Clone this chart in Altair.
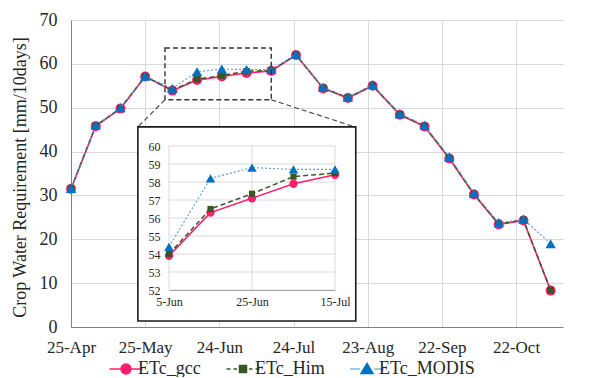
import altair as alt
import pandas as pd

FONT = "'Liberation Serif', 'Times New Roman', 'DejaVu Serif', serif"

# ---------------- data ----------------
dates = ["2019-04-25", "2019-05-05", "2019-05-15", "2019-05-25", "2019-06-05",
         "2019-06-15", "2019-06-25", "2019-07-05", "2019-07-15", "2019-07-25",
         "2019-08-05", "2019-08-15", "2019-08-25", "2019-09-05", "2019-09-15",
         "2019-09-25", "2019-10-05", "2019-10-15", "2019-10-25", "2019-11-05"]
gcc = [31.5, 45.8, 49.8, 57.1, 53.9, 56.3, 57.1, 57.9, 58.4, 62.0,
       54.4, 52.2, 55.0, 48.4, 45.7, 38.4, 30.2, 23.4, 24.3, 8.3]
him = [31.5, 45.9, 49.9, 57.1, 54.0, 56.5, 57.35, 58.3, 58.5, 62.0,
       54.5, 52.3, 55.0, 48.5, 45.8, 38.5, 30.3, 23.5, 24.4, 8.4]
modis = [31.6, 46.0, 50.0, 57.2, 54.4, 58.2, 58.8, 58.7, 58.7, 62.2,
         54.6, 52.4, 55.3, 48.6, 46.0, 38.8, 30.5, 23.8, 24.6, 19.0]

series_names = ["ETc_gcc", "ETc_Him", "ETc_MODIS"]
marker_colors = ["#FF1F6E", "#375623", "#0070C0"]
line_colors = ["#FF1F6E", "#3B5B2B", "#5B9BD5"]

main_x_domain = ["2019-04-25", "2019-11-10"]
main_x_ticks = ["2019-04-25", "2019-05-25", "2019-06-24", "2019-07-24",
                "2019-08-23", "2019-09-22", "2019-10-22"]
main_y_domain = [0, 70]
main_y_ticks = [0, 10, 20, 30, 40, 50, 60, 70]

inset_x_domain = ["2019-06-05", "2019-07-15"]
inset_x_ticks = ["2019-06-05", "2019-06-25", "2019-07-15"]
inset_y_domain = [52, 60]
inset_y_ticks = [52, 53, 54, 55, 56, 57, 58, 59, 60]

zoom_x = ["2019-06-02", "2019-07-15"]
zoom_y = [51.8, 63.6]
conn_x_end = ["2019-05-22", "2019-08-18"]
conn_y_end = [45.6, 45.6]
inset_box_x = ["2019-05-28 12:00", "2019-07-20"]
inset_box_y = [50.28, 61.06]

DATE_LABEL = "utcFormat(datum.value, '%-d-%b')"


def ms(s):
    return int(pd.Timestamp(s).tz_localize("UTC").value // 1_000_000)


rows = []
for name, vals in zip(series_names, [gcc, him, modis]):
    for d, v in zip(dates, vals):
        rows.append({"date": ms(d), "value": v, "series": name})
df = pd.DataFrame(rows)
lo, hi = ms(inset_x_domain[0]), ms(inset_x_domain[1])
df_inset = df[(df["date"] >= lo) & (df["date"] <= hi)]

# ---------------- encodings ----------------
x_main_scale = alt.Scale(type="utc", domain=[ms(d) for d in main_x_domain])
x_main_axis = alt.Axis(values=[ms(d) for d in main_x_ticks], labelExpr=DATE_LABEL,
                       title=None, grid=True, gridColor="#d9d9d9", ticks=False,
                       domainColor="#808080", labelFontSize=17, labelPadding=12,
                       labelFlush=False, labelColor="#262626", labelFont=FONT)
y_main_scale = alt.Scale(domain=main_y_domain)
y_main_axis = alt.Axis(values=main_y_ticks, title="Crop Water Requirement  [mm/10days]",
                       grid=True, gridColor="#d9d9d9", ticks=False, domainColor="#808080",
                       labelFontSize=18, labelPadding=14, labelColor="#262626", labelFont=FONT,
                       titleFont=FONT, titleFontSize=18, titleFontWeight="normal",
                       titleColor="#262626", titleX=-51, titleY=157, titleAlign="center",
                       titleBaseline="middle")


def XM(f):
    return alt.X(f, scale=x_main_scale, axis=x_main_axis)


def YM(f):
    return alt.Y(f, scale=y_main_scale, axis=y_main_axis)


x_in_scale = alt.Scale(type="utc", domain=[ms(d) for d in inset_x_domain], range=[98, 264])
x_in_axis = alt.Axis(orient="bottom", offset=-37, values=[ms(d) for d in inset_x_ticks],
                     labelExpr=DATE_LABEL, title=None, grid=False, ticks=False,
                     domainColor="#a6a6a6", labelFontSize=12, labelPadding=6, labelFlush=False,
                     labelColor="#262626", labelFont=FONT, zindex=2)
y_in_scale = alt.Scale(domain=inset_y_domain, range=[270, 126])
y_in_axis = alt.Axis(orient="left", offset=-98, values=inset_y_ticks, title=None, grid=False,
                     ticks=False, domain=False, labelFontSize=12, labelPadding=9,
                     labelColor="#262626", labelFont=FONT, zindex=2)


def XI(f):
    return alt.X(f, scale=x_in_scale, axis=x_in_axis)


def YI(f):
    return alt.Y(f, scale=y_in_scale, axis=y_in_axis)


styles = {
    "ETc_gcc": dict(shape="circle", dash=None, lw=1.6),
    "ETc_Him": dict(shape="square", dash=[5, 3], lw=1.5),
    "ETc_MODIS": dict(shape="triangle-up", dash=[2, 2], lw=1.1),
}
main_sizes = {"ETc_gcc": 100, "ETc_Him": 45, "ETc_MODIS": 110}
inset_sizes = {"ETc_gcc": 70, "ETc_Him": 38, "ETc_MODIS": 90}


def series_layers(data, X, Y, sizes):
    out = []
    for name, mc, lc in zip(series_names, marker_colors, line_colors):
        st = styles[name]
        base = alt.Chart(data).transform_filter(alt.datum.series == name)
        lkw = dict(color=lc, strokeWidth=st["lw"])
        if st["dash"]:
            lkw["strokeDash"] = st["dash"]
        out.append(base.mark_line(**lkw).encode(x=X("date:T"), y=Y("value:Q")))
        out.append(base.mark_point(shape=st["shape"], filled=True, color=mc, size=sizes[name],
                                   opacity=1).encode(x=X("date:T"), y=Y("value:Q")))
    return out


# ---------------- main panel ----------------
main_layers = series_layers(df, XM, YM, main_sizes)

zoom_df = pd.DataFrame({"x0": [ms(zoom_x[0])], "x1": [ms(zoom_x[1])],
                        "y0": [zoom_y[0]], "y1": [zoom_y[1]]})
zoom_rect = alt.Chart(zoom_df).mark_rect(filled=False, fill=None, stroke="#333333", strokeWidth=1.4,
                                         strokeDash=[5, 3]).encode(
    x=XM("x0:T"), x2="x1", y=YM("y0:Q"), y2="y1")

conn_df = pd.DataFrame({"x0": [ms(zoom_x[0]), ms(zoom_x[1])],
                        "y0": [zoom_y[0], zoom_y[0]],
                        "x1": [ms(d) for d in conn_x_end],
                        "y1": conn_y_end})
connectors = alt.Chart(conn_df).mark_rule(color="#404040", strokeWidth=1.1, strokeDash=[5, 3]).encode(
    x=XM("x0:T"), x2="x1", y=YM("y0:Q"), y2="y1")


def dotted_path():
    segs = []
    x = -3.3
    while x < 3.3:
        if x + 0.2 < -1.2 or x > 1.2:
            segs.append(f"M{x:.2f},0L{x + 0.2:.2f},0")
        x += 0.4
    return "".join(segs)


legend_paths = [
    "M-3.3,0L3.3,0M-1,0A1,1,0,1,1,1,0A1,1,0,1,1,-1,0Z",
    "M-3.3,0L-2.5,0M-1.9,0L-1.2,0M1.2,0L1.9,0M2.5,0L3.3,0M-0.7,-0.7L0.7,-0.7L0.7,0.7L-0.7,0.7Z",
    dotted_path() + "M0,-1.1L1.2,0.9L-1.2,0.9Z",
]
leg = alt.Legend(title=None, orient="none", legendX=46, legendY=340, direction="horizontal",
                 columns=3, labelFont=FONT, labelFontSize=18, labelColor="#262626",
                 labelOffset=3, columnPadding=22, symbolStrokeWidth=1.5, symbolOpacity=1,
                 symbolSize=100, labelLimit=300)
legend_layer = alt.Chart(pd.DataFrame({"series": series_names})).mark_point(
    filled=True, opacity=0).encode(
    shape=alt.Shape("series:N", scale=alt.Scale(domain=series_names, range=legend_paths), legend=leg),
    fill=alt.Fill("series:N", scale=alt.Scale(domain=series_names, range=marker_colors), legend=leg),
    stroke=alt.Stroke("series:N", scale=alt.Scale(domain=series_names, range=marker_colors), legend=leg),
)

main_group = alt.layer(*main_layers, zoom_rect, connectors, legend_layer)

# ---------------- inset panel ----------------
box_df = pd.DataFrame({"x0": [ms(inset_box_x[0])], "x1": [ms(inset_box_x[1])],
                       "y0": [inset_box_y[0]], "y1": [inset_box_y[1]]})
inset_box = alt.Chart(box_df).mark_rect(fill="white", stroke="#1a1a1a", strokeWidth=1.6).encode(
    x=XI("x0:T"), x2="x1", y=YI("y0:Q"), y2="y1")

hgrid_df = pd.DataFrame({"v": inset_y_ticks, "x0": ms(inset_x_domain[0]), "x1": ms(inset_x_domain[1])})
hgrid = alt.Chart(hgrid_df).mark_rule(color="#d9d9d9", strokeWidth=1).encode(
    x=XI("x0:T"), x2="x1", y=YI("v:Q"))
vgrid_df = pd.DataFrame({"d": [ms(d) for d in inset_x_ticks], "y0": inset_y_domain[0],
                         "y1": inset_y_domain[1]})
vgrid = alt.Chart(vgrid_df).mark_rule(color="#d9d9d9", strokeWidth=1).encode(
    x=XI("d:T"), y=YI("y0:Q"), y2="y1")

inset_group = alt.layer(inset_box, hgrid, vgrid, *series_layers(df_inset, XI, YI, inset_sizes))

chart = alt.layer(main_group, inset_group).resolve_scale(
    x="independent", y="independent"
).properties(
    width=492, height=307,
    padding={"left": 63, "top": 12, "right": 18, "bottom": 50},
    autosize=alt.AutoSizeParams(type="none"),
).configure(font=FONT).configure_view(stroke=None)

chart.save("out.html", embed_options={"renderer": "svg", "actions": False})
